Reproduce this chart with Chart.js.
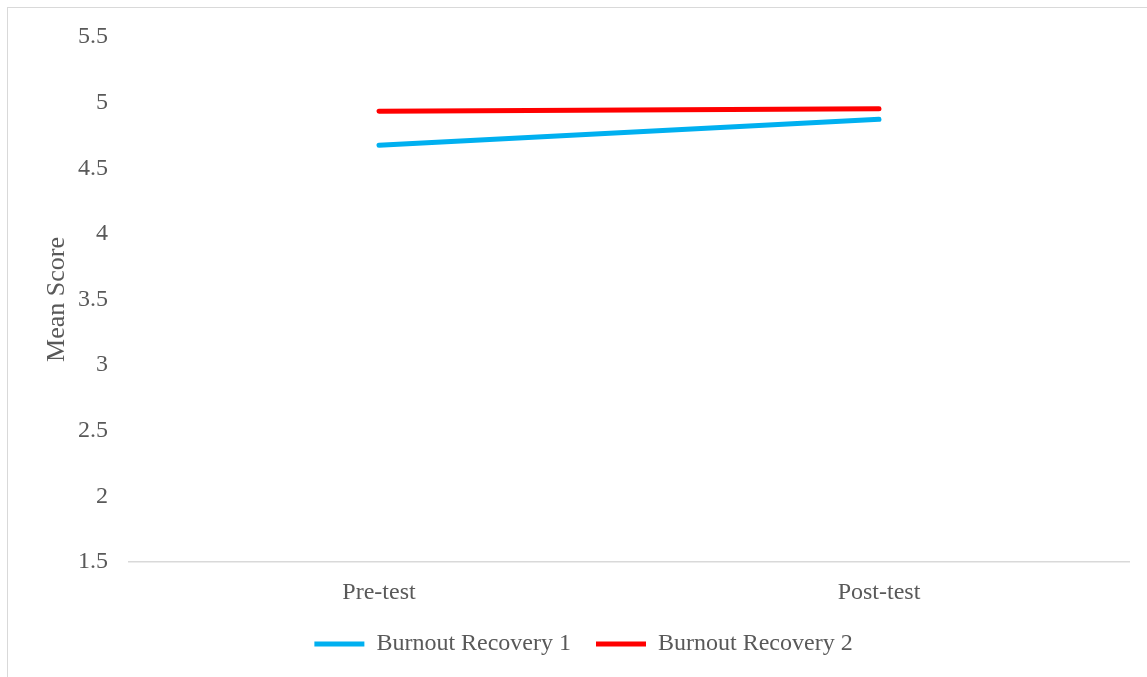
<!DOCTYPE html>
<html>
<head>
<meta charset="utf-8">
<script src="https://cdn.jsdelivr.net/npm/chart.js@4"></script>
<style>
  html, body { margin: 0; padding: 0; background: #fff; overflow: hidden; }
  #frame { position: absolute; left: 7px; top: 7px; width: 1300px; height: 800px;
           border-left: 1px solid #d9d9d9; border-top: 1px solid #d9d9d9; }
  #wrap { position: absolute; left: 0; top: 0; width: 1147px; height: 677px; }
</style>
</head>
<body>
<div id="frame"></div>
<div id="wrap"><canvas id="grafico"></canvas></div>
<script>
// categorias e valores
const categorias = ["Pre-test", "Post-test"];
const recovery1 = [4.675, 4.873];
const recovery2 = [4.934, 4.954];
const nomesSeries = ["Burnout Recovery 1", "Burnout Recovery 2"];
const ticksY = [1.5, 2, 2.5, 3, 3.5, 4, 4.5, 5, 5.5];

const fonte = "'Liberation Serif', 'Times New Roman', serif";
const corTexto = "#595959";

const ctx = document.getElementById("grafico");

new Chart(ctx, {
  type: "line",
  data: {
    labels: categorias,
    datasets: [
      {
        label: nomesSeries[0],
        data: recovery1,
        borderColor: "#00B0F0",
        backgroundColor: "#00B0F0",
        borderWidth: 5,
        borderCapStyle: "round",
        pointRadius: 0,
        fill: false
      },
      {
        label: nomesSeries[1],
        data: recovery2,
        borderColor: "#FF0000",
        backgroundColor: "#FF0000",
        borderWidth: 5,
        borderCapStyle: "round",
        pointRadius: 0,
        fill: false
      }
    ]
  },
  options: {
    responsive: true,
    maintainAspectRatio: false,
    animation: false,
    clip: false,
    layout: {
      padding: { left: 38, right: 18, top: 37, bottom: 11 }
    },
    plugins: {
      legend: {
        position: "bottom",
        labels: {
          usePointStyle: true,
          pointStyle: "line",
          pointStyleWidth: 50,
          color: corTexto,
          padding: 25,
          font: { family: fonte, size: 24 }
        }
      },
      tooltip: { enabled: false }
    },
    scales: {
      x: {
        offset: true,
        afterFit: function (scale) {
          scale.height = 45;
        },
        grid: { display: false, drawTicks: false },
        border: { display: true, color: "#d9d9d9", width: 1.5 },
        ticks: {
          color: corTexto,
          padding: 16,
          font: { family: fonte, size: 24 }
        }
      },
      y: {
        min: 1.5,
        max: 5.5,
        afterBuildTicks: function (scale) {
          scale.ticks = ticksY.map(function (v) { return { value: v }; });
        },
        afterFit: function (scale) {
          scale.width = 91;
        },
        grid: { display: false, drawTicks: false },
        border: { display: false },
        title: {
          display: true,
          text: "Mean Score",
          color: corTexto,
          padding: 4,
          font: { family: fonte, size: 26 }
        },
        ticks: {
          color: corTexto,
          padding: 21,
          font: { family: fonte, size: 24 },
          callback: function (valor) {
            return String(valor);
          }
        }
      }
    }
  }
});
</script>
</body>
</html>
